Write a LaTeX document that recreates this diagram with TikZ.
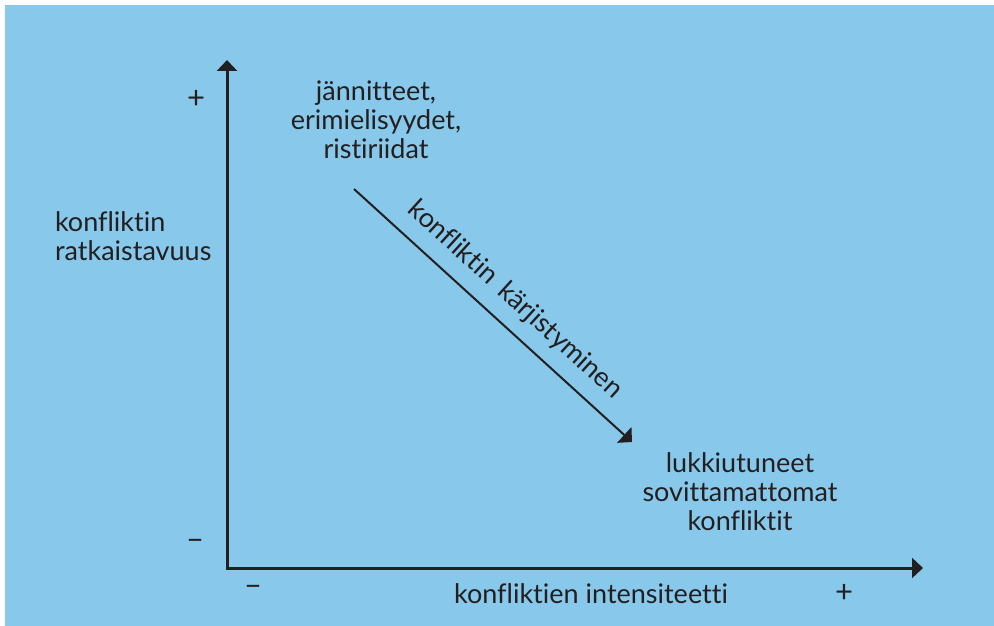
\documentclass[tikz,border=0pt]{standalone}
\usepackage{fontspec}
\setmainfont{Lato}[Ligatures={NoCommon}]
\usetikzlibrary{arrows.meta}
\definecolor{bgblue}{RGB}{136,200,234}
\definecolor{ink}{RGB}{35,31,32}
\begin{document}
\begin{tikzpicture}[x=1pt,y=-1pt,
  lbl/.style={inner sep=0pt,outer sep=0pt,text=ink,font=\fontsize{27}{29}\selectfont},
  sign/.style={inner sep=0pt,outer sep=0pt,text=ink,font=\fontsize{31}{31}\selectfont},
  axis/.style={draw=ink,line width=3pt,line join=miter,{Triangle[width=20pt,length=11pt]}-{Triangle[width=20pt,length=11pt]}},
  trend/.style={draw=ink,line width=2pt,-{Triangle[width=21pt,length=10.5pt]}}]
\useasboundingbox (0,0) rectangle (994,626);
\fill[white] (0,0) rectangle (994,626);
\fill[bgblue] (5,5) rectangle (994,626);
% axes
\coordinate (O) at (227,568);
\coordinate (ytop) at (227,60);
\coordinate (xend) at (923,568);
\draw[axis] (ytop) -- (O) -- (xend);
% signs
\node[sign] (yplus) at (196,99) {+};
\node[sign] (yminus) at (195,544) {\char"2013};
\node[sign] (xminus) at (253,590) {\char"2013};
\node[sign] (xplus) at (844,593) {+};
% axis labels (base anchor = last line baseline)
\node[lbl,anchor=base west,align=left] (ylab) at (55,260) {konfliktin\\ratkaistavuus};
\node[lbl,anchor=base] (xlab) at (591,603) {konfliktien intensiteetti};
% texts
\node[lbl,anchor=base,align=center] (top) at (376,158) {jännitteet,\\erimielisyydet,\\ristiriidat};
\node[lbl,anchor=base,align=center] (bottom) at (740,530) {lukkiutuneet\\sovittamattomat\\konfliktit};
% trend arrow
\coordinate (s) at (354,189);
\coordinate (e) at (632,442);
\draw[trend] (s) -- (e);
\node[lbl,rotate=-42.3] (trendlab) at (515,300) {konfliktin\hspace{4pt} kärjistyminen};
\end{tikzpicture}
\end{document}
